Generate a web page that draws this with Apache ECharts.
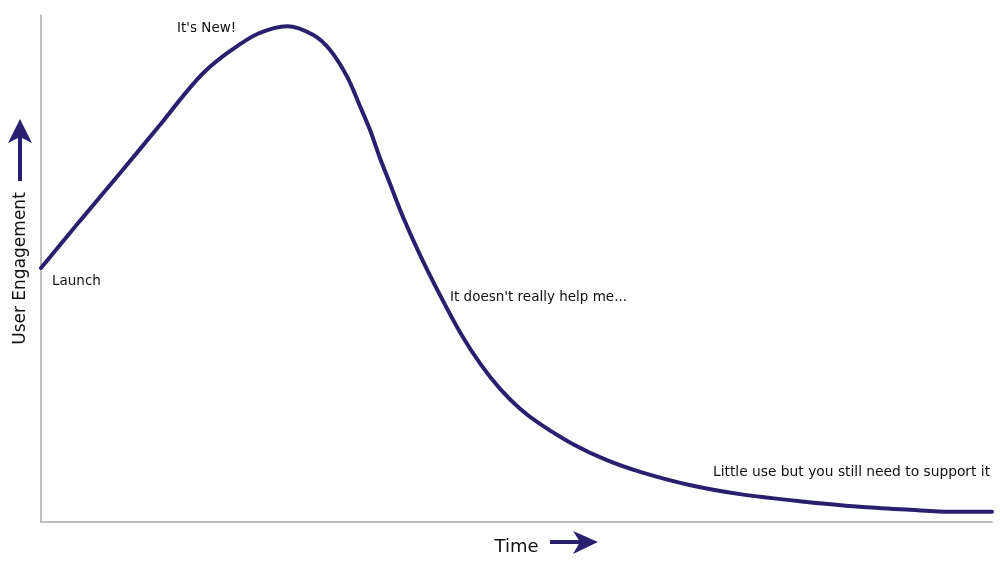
<!DOCTYPE html>
<html>
<head>
<meta charset="utf-8">
<script src="https://cdn.jsdelivr.net/npm/echarts@6/dist/echarts.min.js"></script>
<style>html,body{margin:0;padding:0;background:#fff;}#c{width:1000px;height:563px;}</style>
</head>
<body>
<div id="c"></div>
<script>
var time = [0, 4.1, 8.3, 12.5, 15.1, 17.2, 19.9, 22.8, 25.9, 28.6, 30.4, 32.2, 33.5, 34.6, 35.6, 36.7, 38.1, 39.9, 42.0, 44.1, 46.2, 48.3, 50.4, 52.5, 55.9, 59.5, 63.0, 68.2, 73.5, 79.8, 86.1, 91.4, 95.6, 100];
var engagement = [50.1, 59.4, 68.8, 78.3, 84.4, 88.8, 92.9, 96.3, 97.8, 96.1, 93.1, 87.8, 82.2, 77.3, 72.0, 66.7, 60.0, 52.5, 44.6, 37.3, 31.2, 26.2, 22.3, 19.3, 15.4, 12.2, 9.9, 7.3, 5.5, 4.1, 3.0, 2.4, 2.0, 2.0];
var annotations = ["It's New!", "Launch", "It doesn't really help me...", "Little use but you still need to support it"];
var xName = "Time";
var yName = "User Engagement";

var navy = '#28206f';
var font = 'DejaVu Sans';
var chart = echarts.init(document.getElementById('c'), null, {renderer: 'canvas'});
var pts = time.map(function (t, i) { return [t, engagement[i]]; });

function label(txt, x, yc, size) {
  return {type: 'text', x: x, y: yc, style: {text: txt, x: 0, y: 0, font: (size || 13.5) + 'px ' + font, fill: '#111', verticalAlign: 'middle', textVerticalAlign: 'middle'}};
}

chart.setOption({
  backgroundColor: '#fff',
  animation: false,
  grid: {left: 41, right: 8, top: 15, bottom: 41, outerBoundsMode: 'none', containLabel: false},
  xAxis: {
    type: 'value', min: 0, max: 100,
    name: xName, nameLocation: 'middle', nameGap: 16,
    nameTextStyle: {fontFamily: font, fontSize: 18, color: '#111'},
    axisLine: {lineStyle: {color: '#aaaaaa', width: 1.5}},
    axisTick: {show: false}, axisLabel: {show: false}, splitLine: {show: false}
  },
  yAxis: {
    type: 'value', min: 0, max: 100,
    name: yName, nameLocation: 'middle', nameGap: 12, nameRotate: 90,
    nameTextStyle: {fontFamily: font, fontSize: 17, color: '#111'},
    axisLine: {show: true, lineStyle: {color: '#aaaaaa', width: 1.5}},
    axisTick: {show: false}, axisLabel: {show: false}, splitLine: {show: false}
  },
  series: [{
    type: 'line', data: pts, smooth: 0.3, symbol: 'none',
    lineStyle: {color: navy, width: 4, cap: 'round'}
  }],
  graphic: [
    label(annotations[0], 177, 28),
    label(annotations[1], 52, 281),
    label(annotations[2], 450, 297),
    label(annotations[3], 713, 472, 13.8),
    {type: 'group', children: [
      {type: 'line', shape: {x1: 20, y1: 181, x2: 20, y2: 132}, style: {stroke: navy, lineWidth: 4}},
      {type: 'polygon', shape: {points: [[20, 119], [32, 143], [20, 137], [8, 143]]}, style: {fill: navy}}
    ]},
    {type: 'group', children: [
      {type: 'line', shape: {x1: 550, y1: 542, x2: 585, y2: 542}, style: {stroke: navy, lineWidth: 4}},
      {type: 'polygon', shape: {points: [[598, 542], [573, 531], [580, 542], [573, 554]]}, style: {fill: navy}}
    ]}
  ]
});
</script>
</body>
</html>
